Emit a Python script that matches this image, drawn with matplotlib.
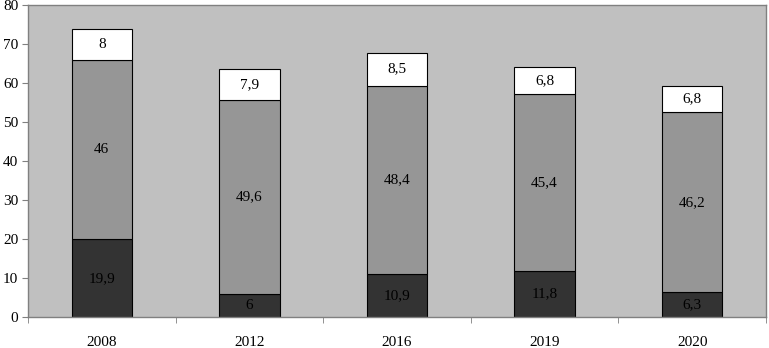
import matplotlib
matplotlib.use("Agg")
import matplotlib.pyplot as plt
import numpy as np

years = ["2008", "2012", "2016", "2019", "2020"]
bottom_vals = [19.9, 6, 10.9, 11.8, 6.3]
middle_vals = [46, 49.6, 48.4, 45.4, 46.2]
top_vals = [8, 7.9, 8.5, 6.8, 6.8]

plt.rcParams['font.family'] = ['Liberation Serif', 'DejaVu Serif']

fig = plt.figure(figsize=(7.69, 3.48), dpi=100)
ax = fig.add_axes([28/769, 31/348, 738/769, 312/348])
ax.set_facecolor('#C0C0C0')

x = np.arange(len(years))
w = 0.41
b = np.array(bottom_vals)
m = np.array(middle_vals)
t = np.array(top_vals)

def fmt(v):
    return ('%g' % v).replace('.', ',')

ax.bar(x, b, w, color='#333333', edgecolor='black', linewidth=0.8)
ax.bar(x, m, w, bottom=b, color='#969696', edgecolor='black', linewidth=0.8)
ax.bar(x, t, w, bottom=b + m, color='white', edgecolor='black', linewidth=0.8)

fs = 11
for i in range(len(years)):
    ax.text(x[i], b[i] / 2, fmt(b[i]), ha='center', va='center', fontsize=fs, color='black')
    ax.text(x[i], b[i] + m[i] / 2, fmt(m[i]), ha='center', va='center', fontsize=fs, color='black')
    ax.text(x[i], b[i] + m[i] + t[i] / 2, fmt(t[i]), ha='center', va='center', fontsize=fs, color='black')

ax.set_xlim(-0.5, len(years) - 0.5)
ax.set_ylim(0, 80)
ax.set_yticks(range(0, 81, 10))
ax.set_xticks(x)
ax.set_xticklabels(years)
ax.set_xticks(np.arange(-0.5, len(years), 1.0), minor=True)
ax.tick_params(axis='x', which='major', length=0, pad=14, labelsize=fs)
ax.tick_params(axis='x', which='minor', length=4, color='#808080', direction='out')
ax.tick_params(axis='y', length=4, color='#808080', labelsize=fs, pad=3)

for s in ax.spines.values():
    s.set_color('#808080')
    s.set_linewidth(1.0)

fig.savefig('out.png', dpi=100)
